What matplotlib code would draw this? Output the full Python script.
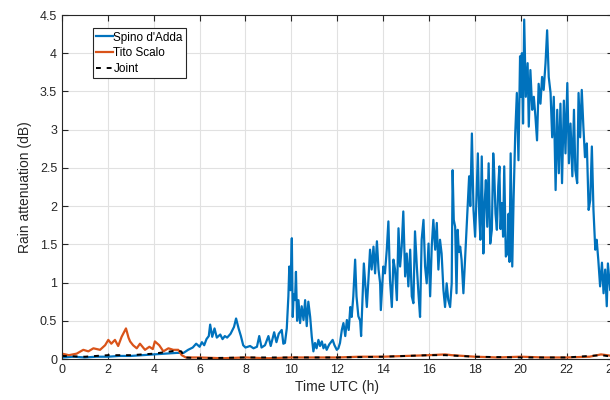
import numpy as np
import matplotlib
matplotlib.use("Agg")
import matplotlib.pyplot as plt

# rain attenuation time series (hour, dB)
spino_t = [0, 0.5, 1.0, 1.5, 2.0, 2.5, 3.0, 3.5, 4.0, 4.5, 5.0, 5.3, 5.5, 5.7, 5.85, 6.0, 6.1, 6.2, 6.3, 6.4,
           6.46, 6.55, 6.65, 6.75, 6.9, 7.0, 7.1, 7.2, 7.35, 7.5, 7.59, 7.7, 7.8, 7.9, 8.0, 8.2, 8.35, 8.5, 8.6, 8.7,
           8.85, 9.0, 9.1, 9.25, 9.35, 9.45, 9.58, 9.65, 9.72, 9.8, 9.87, 9.91, 9.96, 10.02, 10.06, 10.1, 10.16, 10.2,
           10.25, 10.31, 10.38, 10.45, 10.53, 10.6, 10.67, 10.74, 10.82, 10.89, 10.96, 11.03, 11.1, 11.18, 11.25,
           11.33, 11.4, 11.47, 11.54, 11.65, 11.8, 11.88, 11.98, 12.05, 12.12, 12.2, 12.27, 12.35, 12.42, 12.5, 12.57,
           12.63, 12.7,
           12.78, 12.84, 12.92, 13.0, 13.04, 13.1, 13.16, 13.29, 13.36, 13.43, 13.5, 13.58, 13.65, 13.73, 13.8,
           13.87, 13.9, 14.01, 14.08, 14.16, 14.23, 14.3, 14.38, 14.45, 14.52, 14.6, 14.67, 14.74, 14.81, 14.88,
           14.96, 15.03, 15.1, 15.18, 15.25, 15.32, 15.39, 15.47, 15.54, 15.61, 15.68, 15.76, 15.83, 15.9, 15.98,
           16.05, 16.12, 16.19, 16.27, 16.34, 16.41, 16.48, 16.55, 16.63, 16.7, 16.77, 16.84, 16.92, 16.99, 17.03,
           17.08, 17.14, 17.2, 17.25, 17.3, 17.36, 17.42, 17.5, 17.55, 17.62, 17.68, 17.75, 17.8, 17.87, 17.94,
           18.01, 18.07, 18.13, 18.19, 18.24, 18.3, 18.37, 18.42, 18.48, 18.54, 18.6, 18.67, 18.74, 18.8, 18.84,
           18.9, 18.96, 19.02, 19.07, 19.12, 19.18, 19.23, 19.28, 19.35, 19.42, 19.47, 19.51, 19.56, 19.63, 19.69,
           19.76, 19.83, 19.9,
           19.97, 20.01, 20.05, 20.1, 20.15, 20.22, 20.3, 20.35,
           20.42, 20.5, 20.57, 20.64, 20.71, 20.78, 20.86, 20.93, 21.0, 21.08, 21.15, 21.22, 21.3, 21.37, 21.44,
           21.52, 21.59, 21.66, 21.73, 21.8, 21.88, 21.95, 22.03, 22.1, 22.17, 22.25, 22.32, 22.38, 22.46, 22.52,
           22.59, 22.66, 22.73, 22.8, 22.88, 22.96, 23.03, 23.1, 23.17, 23.25, 23.31, 23.38, 23.46, 23.54, 23.61,
           23.68, 23.75, 23.8, 23.9, 24.0]
spino_v = [0.02, 0.03, 0.02, 0.03, 0.03, 0.04, 0.04, 0.05, 0.06, 0.07, 0.08, 0.08, 0.12, 0.15, 0.2, 0.16, 0.22, 0.18, 0.26, 0.3,
           0.45, 0.29, 0.4, 0.28, 0.32, 0.26, 0.3, 0.28, 0.33, 0.42, 0.53, 0.4, 0.3, 0.18, 0.15, 0.17, 0.14, 0.16, 0.3, 0.15,
           0.18, 0.3, 0.17, 0.35, 0.22, 0.33, 0.38, 0.2, 0.21, 0.4, 0.82, 1.21, 0.9, 1.58, 0.55, 0.85, 0.77, 1.14,
           0.5, 0.77, 0.47, 0.69, 0.51, 0.77, 0.43, 0.75, 0.55, 0.29, 0.1, 0.21, 0.14, 0.25, 0.17,
           0.23, 0.14, 0.19, 0.12, 0.19, 0.25, 0.18, 0.12, 0.14, 0.21, 0.38, 0.47, 0.3, 0.51, 0.38, 0.68,
           0.55, 0.82,
           1.3, 0.82, 0.56, 0.5, 0.3, 0.77, 1.25, 0.68, 1.04, 1.43, 1.17, 1.47, 1.12, 1.54, 1.17,
           0.99, 0.64, 1.21, 1.12, 1.43, 1.8, 1.03, 0.68, 1.3, 1.17, 0.77, 1.71, 1.21, 1.47, 1.93,
           1.08, 1.38, 0.95, 1.43, 0.82, 0.73, 1.67, 1.21, 0.86, 0.55, 1.56, 1.82, 1.21, 0.99, 1.51,
           0.82, 1.47, 1.82, 1.43, 1.78, 1.17, 1.56, 1.38, 0.9, 0.68, 0.99, 0.77, 0.68, 0.99, 2.47,
           1.82, 1.73, 0.86, 1.69, 1.4, 1.47, 1.3, 0.86, 1.17, 1.6, 1.95, 2.39, 2.0, 2.95, 1.95,
           1.6, 2.1, 2.69, 1.9, 1.56, 2.65, 1.38, 2.0, 2.34, 1.73, 2.56, 1.51, 1.69, 2.69, 2.47,
           1.9, 1.69, 2.26, 2.52, 1.7, 2.04, 1.6, 2.52, 1.34, 1.38, 1.9, 1.27, 2.69, 1.21, 2.12,
           2.95, 3.48, 2.6,
           3.96, 3.43, 4.0, 3.08, 4.44, 3.43, 3.87, 3.04,
           3.78, 3.26, 3.43, 3.17, 2.86, 3.6, 3.34, 3.69, 3.52, 3.87, 4.3, 3.69, 3.48, 2.9, 3.43,
           2.21, 3.26, 2.43, 3.34, 2.3, 3.38, 2.69, 3.61, 2.56, 3.08, 2.39, 3.26, 2.47, 2.3, 3.48,
           2.9, 3.52, 3.04, 2.64, 2.82, 1.95, 2.08, 2.78, 1.95, 1.43, 1.56, 1.3, 0.95, 1.26, 0.86,
           1.17, 0.69, 1.25, 0.9, 1.0]

tito_t = [0, 0.3, 0.64, 0.93, 1.15, 1.37, 1.66, 1.88, 2.02, 2.15, 2.31, 2.45, 2.6, 2.79, 2.9, 2.97, 3.1, 3.26,
          3.4, 3.62, 3.81, 3.96, 4.05, 4.24, 4.42, 4.64, 4.85, 5.07, 5.22, 5.4, 6, 7, 8, 9, 10, 11, 12, 13, 14, 15,
          16, 16.7, 17, 18, 19, 20, 21, 22, 23, 23.5, 24]
tito_v = [0.07, 0.05, 0.07, 0.12, 0.1, 0.14, 0.12, 0.18, 0.25, 0.2, 0.25, 0.17, 0.29, 0.4, 0.28, 0.23, 0.18, 0.14,
          0.2, 0.12, 0.16, 0.13, 0.23, 0.18, 0.1, 0.14, 0.12, 0.12, 0.05, 0.02, 0.02, 0.01, 0.02, 0.01, 0.02, 0.02,
          0.02, 0.03, 0.03, 0.04, 0.05, 0.06, 0.05, 0.03, 0.02, 0.03, 0.02, 0.02, 0.03, 0.06, 0.04]

joint_t = [0, 1, 2, 3, 3.5, 4, 4.5, 5.0, 5.2, 5.35, 6, 8, 10, 12, 14, 16, 16.7, 18, 20, 22, 23.5, 24]
joint_v = [0.04, 0.03, 0.05, 0.05, 0.06, 0.07, 0.09, 0.11, 0.1, 0.02, 0.01, 0.02, 0.02, 0.02, 0.03, 0.05, 0.05,
           0.03, 0.02, 0.02, 0.05, 0.03]

plt.rcParams["font.family"] = ["Liberation Sans", "DejaVu Sans"]

fig = plt.figure(figsize=(6.1, 4.0), dpi=100)
ax = fig.add_axes([0.1016, 0.1025, 0.9025, 0.86])

ax.plot(spino_t, spino_v, color=(0, 0.447, 0.741), lw=1.6, label="Spino d'Adda")
ax.plot(tito_t, tito_v, color=(0.85, 0.325, 0.098), lw=1.6, label="Tito Scalo")
ax.plot(joint_t, joint_v, color="black", lw=1.4, ls=(0, (2.5, 3)), label="Joint")

ax.set_xlim(0, 24)
ax.set_ylim(0, 4.5)
ax.set_xticks(np.arange(0, 25, 2))
ax.set_yticks(np.arange(0, 4.51, 0.5))
ax.set_yticklabels(["0", "0.5", "1", "1.5", "2", "2.5", "3", "3.5", "4", "4.5"])

ax.grid(True, color="#e1e1e1", lw=0.8)
ax.set_axisbelow(True)
ax.tick_params(direction="in", length=4, width=0.8, top=True, right=True,
               labelsize=9, colors="#262626")
for s in ax.spines.values():
    s.set_color("#262626")
    s.set_linewidth(0.8)

ax.set_xlabel("Time UTC (h)", fontsize=10, color="#262626", labelpad=3)
ax.set_ylabel("Rain attenuation (dB)", fontsize=10, color="#262626", labelpad=6)

leg = ax.legend(loc="upper left", bbox_to_anchor=(0.056, 0.962), fontsize=8.5,
                handlelength=1.4, handletextpad=0.05, borderpad=0.3, labelspacing=0.3,
                fancybox=False, framealpha=1, edgecolor="#262626", borderaxespad=0)
leg.get_frame().set_linewidth(0.8)

fig.savefig("out.png", dpi=100)
